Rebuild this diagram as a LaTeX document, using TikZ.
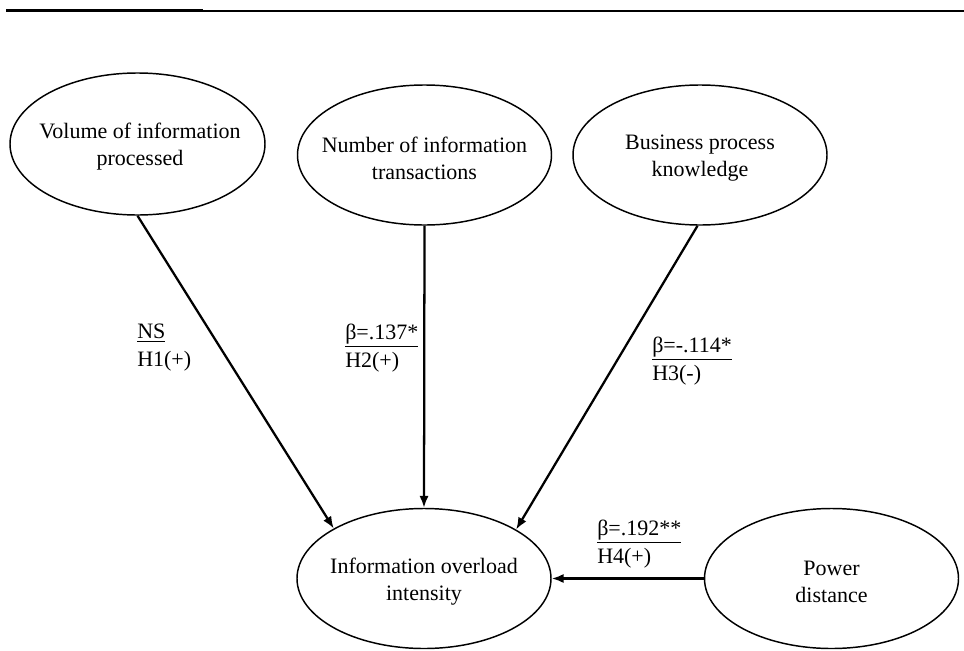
\documentclass[tikz,border=0pt]{standalone}
\usepackage{fontspec}
\setmainfont{Liberation Serif}
\usetikzlibrary{shapes.geometric,arrows.meta}
\begin{document}
\begin{tikzpicture}[x=0.75pt,y=-0.75pt,
  construct/.style={draw, ellipse, line width=1.1pt, inner sep=0pt,
    minimum width=190.5pt, minimum height=105pt},
  ctext/.style={align=center, inner sep=0pt,
    font=\fontsize{16.5}{20.25}\selectfont},
  effect/.style={line width=1.7pt, -{Latex[length=9pt,width=7pt]}},
  coef/.style={anchor=west, align=left, inner sep=0pt,
    font=\fontsize{16.5}{21}\selectfont}]
  \useasboundingbox (0,0) rectangle (964,650);

  % rule across the top
  \draw[line width=2.2pt] (6,10.5) -- (203,10.5);
  \draw[line width=1pt] (203,11) -- (964,11);

  % constructs (outline and centred caption)
  \node[construct, minimum width=191.25pt, minimum height=106.5pt] (vol) at (137.5,144) {};
  \node[ctext] (volt) at (140,147) {Volume of information\\processed};
  \node[construct] (num) at (424.5,155) {};
  \node[ctext] (numt) at (424.5,158) {Number of information\\transactions};
  \node[construct] (bpk) at (700,155) {};
  \node[ctext] (bpkt) at (700,158) {Business process\\knowledge};
  \node[construct] (ioi) at (424,578.5) {};
  \node[ctext] (ioit) at (424,582) {Information overload\\intensity};
  \node[construct] (pdi) at (831.5,578.5) {};
  \node[ctext] (pdit) at (831.5,582) {Power\\distance};

  % hypothesised effects
  \draw[effect] (vol.south) -- (ioi.151);
  \draw[effect] (num.south) -- (ioi.north);
  \draw[effect] (bpk.-92) -- (ioi.28);
  \draw[effect] (pdi.west) -- (ioi.east);

  % path coefficients
  \node[coef] (c1) at (137,348) {\underline{NS}\\H1(+)};
  \node[coef] (c2) at (345,348) {\underline{β=.137*}\\H2(+)};
  \node[coef] (c3) at (652,361) {\underline{β=-.114*}\\H3(-)};
  \node[coef] (c4) at (597,544) {\underline{β=.192**}\\H4(+)};
\end{tikzpicture}
\end{document}
